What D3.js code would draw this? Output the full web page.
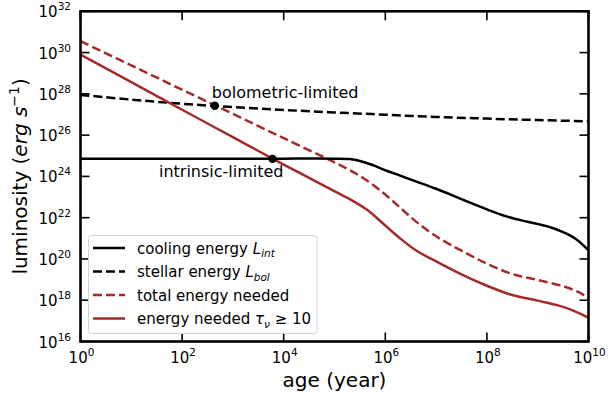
<!DOCTYPE html>
<html><head><meta charset="utf-8">
<script src="https://cdn.jsdelivr.net/npm/d3@7"></script>
<style>
body{margin:0;background:#fff;}
text{font-family:"DejaVu Sans",sans-serif;fill:#000;}
</style></head>
<body><svg id="c" width="608" height="394"></svg>
<script>
// log10(age in years) and log10(luminosity in erg/s)
const coolingLogAge = [0,1,2,3,4,5,5.3,5.5,5.75,6,6.3,6.6,7,7.5,8,8.4,8.8,9.2,9.5,9.75,10];
const coolingLogL   = [24.85,24.85,24.85,24.85,24.86,24.86,24.84,24.75,24.55,24.3,24.03,23.76,23.4,22.9,22.4,22.05,21.8,21.57,21.3,20.97,20.42];

const stellarLogAge = [0,1,2,3,4,5,6,7,8,9,10];
const stellarLogL   = [27.95,27.72,27.52,27.36,27.22,27.1,26.99,26.88,26.8,26.73,26.67];

const totalLogAge = [0,1,2,3,4,5,5.3,5.64,6,6.3,6.6,7,7.5,8,8.5,9,9.5,9.8,10];
const totalLogL   = [30.55,29.38,28.2,27.03,25.85,24.68,24.3,23.8,23.12,22.47,21.82,21.1,20.4,19.77,19.27,18.98,18.68,18.4,18.1];

const tauLogAge = [0,1,2,3,4,4.6,5.1,5.3,5.64,6,6.3,6.6,7,7.5,8,8.5,9,9.4,9.7,10];
const tauLogL   = [29.9,28.57,27.23,25.9,24.57,23.8,23.15,22.9,22.38,21.62,20.98,20.42,19.88,19.25,18.7,18.25,17.98,17.75,17.5,17.15];

const markLogAge = [2.644, 3.78];
const markLogL   = [27.42, 24.85];
const markLabels = ["bolometric-limited", "intrinsic-limited"];

const xTickExp = [0,2,4,6,8,10];
const yTickExp = [16,18,20,22,24,26,28,30,32];

const legendLabels = ["cooling energy", "stellar energy", "total energy needed", "energy needed"];

const svg = d3.select("#c");
const L=80.5, R=588.5, T=11.3, B=341.5;
const RED = "#a52a2a";
const x = d3.scaleLog().domain([1,1e10]).range([L,R]);
const y = d3.scaleLog().domain([1e16,1e32]).range([B,T]);

function series(ax, ay){ return ax.map((a,i)=>[Math.pow(10,a), Math.pow(10,ay[i])]); }
const line = d3.line().x(d=>x(d[0])).y(d=>y(d[1])).curve(d3.curveCatmullRom.alpha(0.5));

const g = svg.append("g");
svg.append("clipPath").attr("id","cp").append("rect").attr("x",L).attr("y",T).attr("width",R-L).attr("height",B-T);
const pg = svg.append("g").attr("clip-path","url(#cp)");

const lw = 2.5;
pg.append("path").attr("d", line(series(stellarLogAge, stellarLogL))).attr("fill","none").attr("stroke","#000").attr("stroke-width",lw).attr("stroke-dasharray","9,4");
pg.append("path").attr("d", line(series(totalLogAge, totalLogL))).attr("fill","none").attr("stroke",RED).attr("stroke-width",lw).attr("stroke-dasharray","9,4");
pg.append("path").attr("d", line(series(tauLogAge, tauLogL))).attr("fill","none").attr("stroke",RED).attr("stroke-width",lw);
pg.append("path").attr("d", line(series(coolingLogAge, coolingLogL))).attr("fill","none").attr("stroke","#000").attr("stroke-width",lw);

// markers
markLogAge.forEach((a,i)=>{
  const cx = x(Math.pow(10,a)), cy = y(Math.pow(10,markLogL[i]));
  svg.append("circle").attr("cx",cx).attr("cy",cy).attr("r",4.2).attr("fill","#000");
});
{
  const cx0 = x(Math.pow(10,markLogAge[0])), cy0 = y(Math.pow(10,markLogL[0]));
  svg.append("text").attr("x",cx0-3).attr("y",cy0-8).attr("font-size",16).text(markLabels[0]);
  const cx1 = x(Math.pow(10,markLogAge[1])), cy1 = y(Math.pow(10,markLogL[1]));
  svg.append("text").attr("x",cx1+11).attr("y",cy1+18).attr("text-anchor","end").attr("font-size",16).text(markLabels[1]);
}

// ticks (inward, all sides)
const tl = 9, tw = 1.6;
xTickExp.forEach(e=>{
  const px = x(Math.pow(10,e));
  g.append("line").attr("x1",px).attr("x2",px).attr("y1",B).attr("y2",B-tl).attr("stroke","#000").attr("stroke-width",tw);
  g.append("line").attr("x1",px).attr("x2",px).attr("y1",T).attr("y2",T+tl).attr("stroke","#000").attr("stroke-width",tw);
  const t = svg.append("text").attr("x",px+1).attr("y",363).attr("text-anchor","middle").attr("font-size",15);
  t.append("tspan").text("10");
  t.append("tspan").attr("dy",-7).attr("font-size",10.5).text(e);
});
yTickExp.forEach(e=>{
  const py = y(Math.pow(10,e));
  g.append("line").attr("x1",L).attr("x2",L+tl).attr("y1",py).attr("y2",py).attr("stroke","#000").attr("stroke-width",tw);
  g.append("line").attr("x1",R).attr("x2",R-tl).attr("y1",py).attr("y2",py).attr("stroke","#000").attr("stroke-width",tw);
  const t = svg.append("text").attr("x",71).attr("y",py+6).attr("text-anchor","end").attr("font-size",15);
  t.append("tspan").text("10");
  t.append("tspan").attr("dy",-7).attr("font-size",10.5).text(e);
});

// frame
svg.append("rect").attr("x",L).attr("y",T).attr("width",R-L).attr("height",B-T).attr("fill","none").attr("stroke","#000").attr("stroke-width",2.6);

// axis labels
svg.append("text").attr("x",(L+R)/2).attr("y",387).attr("text-anchor","middle").attr("font-size",20).text("age (year)");
const yl = svg.append("text").attr("transform",`translate(27,${(T+B)/2}) rotate(-90)`).attr("text-anchor","middle").attr("font-size",20);
yl.append("tspan").text("luminosity (");
yl.append("tspan").attr("font-style","italic").text("erg s");
yl.append("tspan").attr("dy",-8).attr("font-size",14).text("\u22121");
yl.append("tspan").attr("dy",8).text(")");

// legend
const lg = svg.append("g");
lg.append("rect").attr("x",88.5).attr("y",235.5).attr("width",228.5).attr("height",98).attr("rx",3).attr("fill","#fff").attr("fill-opacity",0.85).attr("stroke","#d4d4d4").attr("stroke-width",1);
const styles = [["#000",null],["#000","9,4"],[RED,"9,4"],[RED,null]];
const rowY = [248,271.5,295,318.5];
legendLabels.forEach((lab,i)=>{
  const yy = rowY[i];
  lg.append("line").attr("x1",93).attr("x2",125).attr("y1",yy).attr("y2",yy).attr("stroke",styles[i][0]).attr("stroke-width",lw).attr("stroke-dasharray",styles[i][1]);
  const t = lg.append("text").attr("x",137).attr("y",yy+5.5).attr("font-size",15);
  t.append("tspan").text(lab);
  if(i===0){
    t.append("tspan").attr("font-style","italic").text(" L");
    t.append("tspan").attr("font-style","italic").attr("font-size",10.5).attr("dy",3.5).text("int");
  } else if(i===1){
    t.append("tspan").attr("font-style","italic").text(" L");
    t.append("tspan").attr("font-style","italic").attr("font-size",10.5).attr("dy",3.5).text("bol");
  } else if(i===3){
    t.append("tspan").attr("font-style","italic").text(" \u03c4");
    t.append("tspan").attr("font-style","italic").attr("font-size",10.5).attr("dy",3.5).text("\u03bd");
    t.append("tspan").attr("dy",-3.5).text(" \u2265 10");
  }
});
</script></body></html>
